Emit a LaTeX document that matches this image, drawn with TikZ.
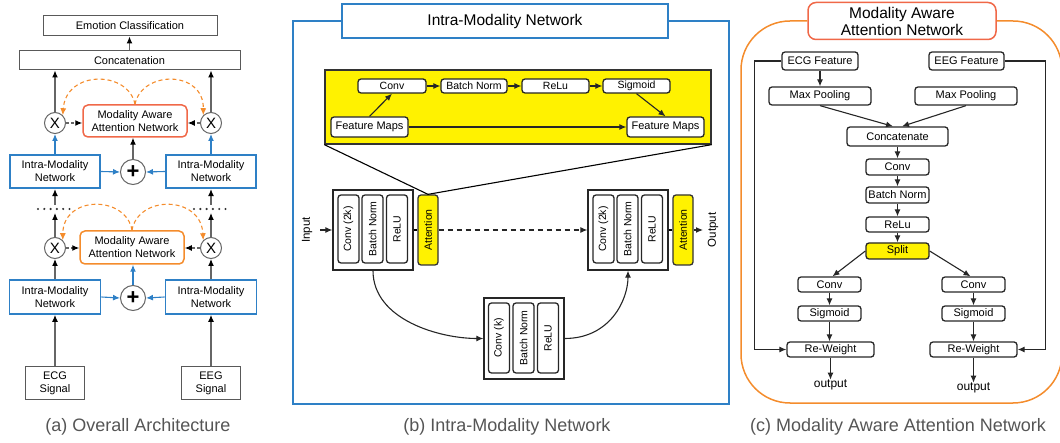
\documentclass[tikz,border=0pt]{standalone}
\usepackage{fontspec}
\setmainfont{Liberation Sans}
\usetikzlibrary{arrows.meta}

\definecolor{imblue}{RGB}{46,128,198}
\definecolor{maanred}{RGB}{240,104,72}
\definecolor{maanorange}{RGB}{244,140,44}
\definecolor{capgray}{RGB}{85,85,85}
\newcommand{\boxfont}{\fontsize{11}{13}\selectfont}
\newcommand{\rotfont}{\fontsize{10.5}{12}\selectfont}
\newcommand{\ttlfont}{\fontsize{15.5}{17}\selectfont}
\newcommand{\capfont}{\fontsize{18}{21}\selectfont}
\newcommand{\vtxt}[1]{\rotatebox{90}{#1}}

\tikzset{
  sz/.style 2 args={minimum width=#1pt, minimum height=#2pt},
  maan/.style={draw=#1, line width=1.5pt, rounded corners=5pt},
}

\begin{document}
\begin{tikzpicture}[x=1pt, y=-1pt, >={Latex[length=7pt, width=6pt]},
    every node/.style={font=\boxfont, inner sep=0pt, align=center},
    abox/.style={draw=black!65, line width=1pt},
    imbox/.style={draw=imblue, line width=1.8pt},
    opnode/.style={circle, draw=black!60, line width=1pt, minimum size=21pt,
      font=\fontsize{15}{15}\selectfont},
    garrow/.style={draw=black!60, line width=1.1pt, -{Latex[length=7pt, width=6pt, color=black]}},
    barrow/.style={draw=imblue, line width=1.1pt, ->},
    oarc/.style={draw=maanorange, line width=1.1pt, dash pattern=on 4pt off 3pt, ->},
    karrow/.style={draw=black!85, line width=1.1pt, ->},
    ibox/.style={draw=black!85, line width=1.3pt, rounded corners=3pt, fill=white},
    outer/.style={draw=black!85, line width=1.3pt},
    yel/.style={draw=black!80, line width=1.3pt, fill=yellow},
    cbox/.style={draw=black!85, line width=1.3pt, rounded corners=3pt},
    caption/.style={font=\capfont, text=capgray}]
  \useasboundingbox (0,0) rectangle (1060,443);
  \def\xl{55}
  \def\xm{133}
  \def\xr{211}

  % --- (a) Overall Architecture ---
  \node[abox, sz={174}{20}] (emo) at (130,26) {Emotion Classification};
  \node[abox, sz={221}{19}] (concat) at (129.5,60.5) {Concatenation};
  \draw[garrow] (concat.north) -- (concat.north |- emo.south);

  % upper stage
  \node[opnode] (mulL1) at (\xl,123) {X};
  \node[opnode] (mulR1) at (\xr,123) {X};
  \node[maan=maanred, sz={104}{32}] (maan1) at (135,121) {Modality Aware\\Attention Network};
  \node[imbox, line width=2.3pt, sz={90}{33}] (intL1) at (\xl,171.5) {Intra-Modality\\Network};
  \node[imbox, line width=2.3pt, sz={90}{33}] (intR1) at (\xr,171.5) {Intra-Modality\\Network};
  \node[opnode, minimum size=25pt, font=\fontsize{22}{22}\selectfont\bfseries] (add1) at (\xm,172) {+};
  \draw[garrow] (mulL1.north) -- (mulL1.north |- concat.south);
  \draw[garrow] (mulR1.north) -- (mulR1.north |- concat.south);
  \draw[garrow, dash pattern=on 3pt off 2pt] (mulL1.east) -- (mulL1.east -| maan1.west);
  \draw[garrow, dash pattern=on 3pt off 2pt] (mulR1.west) -- (mulR1.west -| maan1.east);
  \draw[barrow] (intL1.north) -- (mulL1.south);
  \draw[barrow] (intR1.north) -- (mulR1.south);
  \draw[barrow] (intL1.east) -- (add1.west);
  \draw[barrow] (intR1.west) -- (add1.east);
  \draw[garrow] (add1.north) -- (add1.north |- maan1.south);
  \draw[oarc] (maan1.north) .. controls (128,70) and (66,70) .. (mulL1.north east);
  \draw[oarc] (maan1.north) .. controls (142,70) and (204,70) .. (mulR1.north west);

  % repeated stages
  \coordinate (dotL) at (\xl,213);
  \coordinate (dotLu) at (\xl,205);
  \coordinate (dotR) at (\xr,213);
  \coordinate (dotRu) at (\xr,205);
  \foreach \k in {0,...,5} {
    \fill[black!80] (38+\k*6.3,209) circle (1.2pt);
    \fill[black!80] (194+\k*6.3,209) circle (1.2pt);
  }
  \draw[garrow] (dotLu) -- (intL1.south);
  \draw[garrow] (dotRu) -- (intR1.south);

  % lower stage
  \node[opnode] (mulL2) at (\xl,248) {X};
  \node[opnode] (mulR2) at (\xr,248) {X};
  \node[maan=maanorange, sz={104}{33}] (maan2) at (132,247.5) {Modality Aware\\Attention Network};
  \node[imbox, sz={91}{34}] (intL2) at (\xl,297) {Intra-Modality\\Network};
  \node[imbox, sz={91}{34}] (intR2) at (\xr,297) {Intra-Modality\\Network};
  \node[opnode, minimum size=25pt, font=\fontsize{22}{22}\selectfont\bfseries] (add2) at (\xm,298) {+};
  \node[abox, sz={59}{32}] (ecg) at (\xl,383) {ECG\\Signal};
  \node[abox, sz={59}{32}] (eeg) at (\xr,383) {EEG\\Signal};
  \draw[garrow] (mulL2.north) -- (dotL);
  \draw[garrow] (mulR2.north) -- (dotR);
  \draw[garrow, dash pattern=on 3pt off 2pt] (mulL2.east) -- (mulL2.east -| maan2.west);
  \draw[garrow, dash pattern=on 3pt off 2pt] (mulR2.west) -- (mulR2.west -| maan2.east);
  \draw[garrow] (intL2.north) -- (mulL2.south);
  \draw[garrow] (intR2.north) -- (mulR2.south);
  \draw[barrow] (intL2.east) -- (add2.west);
  \draw[barrow] (intR2.west) -- (add2.east);
  \draw[barrow] (add2.north) -- (add2.north |- maan2.south);
  \draw[garrow] (ecg.north) -- (intL2.south);
  \draw[garrow] (eeg.north) -- (intR2.south);
  \draw[oarc] (maan2.north) .. controls (126,195) and (63,195) .. (mulL2.north east);
  \draw[oarc] (maan2.north) .. controls (138,195) and (201,195) .. (mulR2.north west);

  \node[caption] (capA) at (138,427) {(a) Overall Architecture};

  % --- (b) Intra-Modality Network ---
  \node[draw=imblue, line width=1.4pt, sz={326}{34}, font=\ttlfont] (ttlB) at (505,21) {Intra-Modality Network};
  \draw[imblue, line width=1.4pt] (ttlB.west) -- (293,21) -- (293,404) -- (729,404) -- (729,21) -- (ttlB.east);

  % attention detail
  \node[yel, sz={386}{74}] (zoomA) at (518,107) {};
  \node[ibox, sz={77}{20}] (fmIn) at (369.5,127) {Feature Maps};
  \node[ibox, sz={68}{14}, font=\rotfont] (cv) at (392,86) {Conv};
  \node[ibox, sz={66}{14}, font=\rotfont] (bn) at (474,86) {Batch Norm};
  \node[ibox, sz={67}{14}, font=\rotfont] (rl) at (555.5,86) {ReLu};
  \node[ibox, sz={67}{14}, font=\rotfont] (sg) at (636.5,86) {Sigmoid};
  \node[ibox, sz={77}{20}] (fmOut) at (665.5,127) {Feature Maps};
  \draw[karrow] (fmIn.north) -- (cv.south);
  \draw[karrow] (cv) -- (bn);
  \draw[karrow] (bn) -- (rl);
  \draw[karrow] (rl) -- (sg);
  \draw[karrow] (sg.south) -- (fmOut.north);
  \draw[karrow] (fmIn) -- (fmOut);

  % conv blocks
  \foreach \bx/\nm in {373/L, 628/R} {
    \node[outer, sz={80}{80}] (blk\nm) at (\bx,230) {};
    \node[ibox, sz={21}{68}, font=\rotfont] (cvk\nm) at (\bx-24.5,229) {\vtxt{Conv (2k)}};
    \node[ibox, sz={21}{68}, font=\rotfont] (bnk\nm) at (\bx-0.5,229) {\vtxt{Batch Norm}};
    \node[ibox, sz={21}{68}, font=\rotfont] (rlk\nm) at (\bx+24,229) {\vtxt{ReLU}};
    \node[yel, rounded corners=3pt, sz={20}{70}, font=\rotfont] (att\nm) at (\bx+55,230) {\vtxt{Attention}};
  }
  \node[outer, sz={80}{81}] (blkM) at (524,338.5) {};
  \node[ibox, sz={21}{70}, font=\rotfont] (cvkM) at (499,338) {\vtxt{Conv (k)}};
  \node[ibox, sz={21}{70}, font=\rotfont] (bnkM) at (523.5,338) {\vtxt{Batch Norm}};
  \node[ibox, sz={21}{70}, font=\rotfont] (rlkM) at (548,338) {\vtxt{ReLU}};

  \node[rotate=90, font=\fontsize{11.5}{13}\selectfont] (inLbl) at (307,230) {Input};
  \node[rotate=90, font=\fontsize{11.5}{13}\selectfont] (outLbl) at (713,230) {Output};
  \coordinate (inB) at (320,230);
  \coordinate (outB) at (703,230);

  \draw[line width=1.1pt] (zoomA.south west) -- (attL.north);
  \draw[line width=1.1pt] (zoomA.south east) -- (attL.north);
  \draw[karrow] (inB) -- (blkL.west);
  \draw[line width=1.1pt] (blkL.east) -- (attL.west);
  \draw[karrow, dash pattern=on 5pt off 4pt] (attL.east) -- (blkR.west);
  \draw[line width=1.1pt] (blkR.east) -- (attR.west);
  \draw[karrow] (attR.east) -- (outB);
  \draw[karrow] (blkL.south) .. controls (373,320) and (440,338.5) .. (blkM.west);
  \draw[karrow] (blkM.east) .. controls (610,338.5) and (628,300) .. (blkR.south);

  \node[caption] (capB) at (507,427) {(b) Intra-Modality Network};

  % --- (c) Modality Aware Attention Network ---
  \node[maan=maanred, rounded corners=8pt, sz={188}{37}, font=\ttlfont] (ttlC) at (902,21) {Modality Aware\\Attention Network};
  \draw[maanorange, line width=1.5pt, rounded corners=49pt] (ttlC.west) -- (741,21) -- (741,403) -- (1062,403) -- (1062,21) -- (ttlC.east);

  \node[cbox, sz={76}{18}] (ecgF) at (820,61) {ECG Feature};
  \node[cbox, sz={75}{18}] (eegF) at (966.5,61) {EEG Feature};
  \node[cbox, sz={102}{18}] (mpL) at (820,96) {Max Pooling};
  \node[cbox, sz={102}{18}] (mpR) at (966,96) {Max Pooling};
  \node[cbox, sz={101}{19}] (cat) at (897.5,136.5) {Concatenate};
  \node[cbox, sz={63}{16}] (cvC) at (897.5,167) {Conv};
  \node[cbox, sz={63}{16}] (bnC) at (897.5,195) {Batch Norm};
  \node[cbox, sz={63}{15}] (rlC) at (897.5,224.5) {ReLu};
  \node[cbox, fill=yellow, sz={63}{16}] (split) at (897.5,251) {Split};
  \node[cbox, sz={63}{15}] (cvL) at (829.5,284.5) {Conv};
  \node[cbox, sz={63}{15}] (sgL) at (829.5,313.5) {Sigmoid};
  \node[cbox, sz={87}{15}] (rwL) at (830.5,349.5) {Re-Weight};
  \node[font=\fontsize{12}{14}\selectfont] (outL) at (830.5,385) {output};
  \node[cbox, sz={63}{15}] (cvR) at (973.5,284.5) {Conv};
  \node[cbox, sz={63}{15}] (sgR) at (973.5,313.5) {Sigmoid};
  \node[cbox, sz={87}{15}] (rwR) at (973.5,349.5) {Re-Weight};
  \node[font=\fontsize{12}{14}\selectfont] (outR) at (973.5,388) {output};

  \draw[karrow] (ecgF) -- (mpL);
  \draw[karrow] (mpL.south) -- ([xshift=-4.5pt]cat.north);
  \draw[karrow] (mpR.south) -- ([xshift=4.5pt]cat.north);
  \draw[karrow] (cat) -- (cvC);
  \draw[karrow] (cvC) -- (bnC);
  \draw[karrow] (bnC) -- (rlC);
  \draw[karrow] (rlC) -- (split);
  \draw[karrow] (split.west) -- ([xshift=3pt]cvL.north);
  \draw[karrow] (split.east) -- ([xshift=-3pt]cvR.north);
  \draw[karrow] (cvL) -- (sgL);
  \draw[karrow] (sgL.south) -- (sgL.south |- rwL.north);
  \draw[karrow] (rwL) -- (outL);
  \draw[karrow] (cvR) -- (sgR);
  \draw[karrow] (sgR) -- (rwR);
  \draw[karrow] (rwR) -- (outR);
  \draw[karrow] (ecgF.west) -- ++(-27,0) |- (rwL.west);
  \draw[karrow] (eegF.east) -- ++(41,0) |- (rwR.east);

  \node[caption] (capC) at (898,427) {(c) Modality Aware Attention Network};
\end{tikzpicture}
\end{document}
